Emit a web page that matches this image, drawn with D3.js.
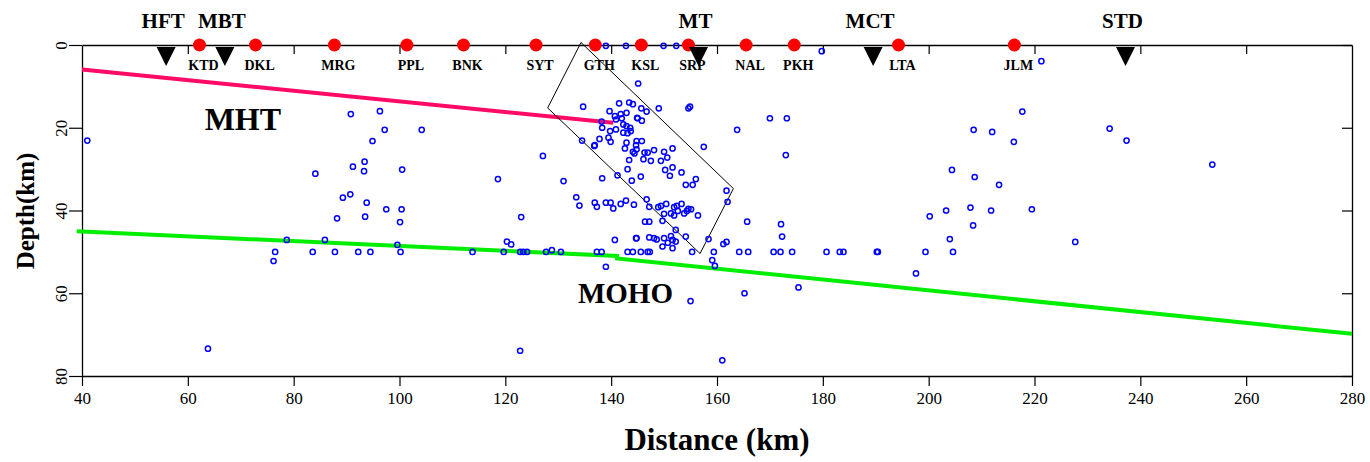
<!DOCTYPE html>
<html>
<head>
<meta charset="utf-8">
<script src="https://cdn.jsdelivr.net/npm/d3@7"></script>
<style>
  body { margin:0; background:#fff; }
  text { font-family:"Liberation Serif","Times New Roman",serif; }
</style>
</head>
<body>
<svg id="chart"></svg>
<script>
// axis ticks
var xTicks = [40,60,80,100,120,140,160,180,200,220,240,260,280]
var yTicks = [0,20,40,60,80]

// faults (triangles on top)
var faultNames = ["HFT","MBT","MT","MCT","STD"]
var faultKm = [55.9,67.0,156.5,189.5,237.2]

// stations (red dots)
var stationNames = ["KTD","DKL","MRG","PPL","BNK","SYT","GTH","KSL","SRP","NAL","PKH","LTA","JLM"]
var stationKm = [62.2,72.8,87.7,101.4,112.1,125.8,137.0,145.7,154.6,165.5,174.6,194.3,216.2]

// MHT trace
var mhtKm = [40,140.4]
var mhtDepth = [5.9,18.8]

// Moho trace
var mohoKm = [39,141.1,141.1,280]
var mohoDepth = [45.0,51.0,51.6,69.8]

// box around the cluster
var boxKm = [134.3,128.0,156.8,163.1,134.3]
var boxDepth = [-0.6,15.2,50.4,34.7,-0.6]

// earthquakes [distance km, depth km]
var quakes = [
  [41.0,23.1],[90.8,16.7],[96.3,16.0],[97.2,20.5],[104.2,20.5],[94.9,23.2],[93.4,28.2],[91.2,29.4],
  [93.3,30.5],[100.5,30.1],[84.1,31.1],[118.6,32.4],[90.7,36.1],[89.3,36.9],[93.8,38.1],[97.5,39.7],
  [100.4,39.7],[88.2,41.9],[93.5,41.5],[100.1,42.8],[123.0,41.6],[78.7,47.1],[85.9,47.1],[99.6,48.3],
  [120.3,47.5],[121.1,48.2],[76.2,52.2],[63.8,73.4],[122.8,73.9],
  [76.5,50],[83.6,50],[87.8,50],[92.2,50],[94.5,50],[100.2,50],[113.8,50],[119.7,50],[122.8,50],
  [123.4,50],[124.1,50],[127.7,50],[128.8,49.6],[130.5,50],[137.3,50],[138.2,50],[143.1,50],[144.1,50],
  [145.6,50],[146.9,50],[147.3,50],[155.3,50],[159.4,50],[164.2,50],[165.9,50],[170.7,50],[172.0,50],
  [174.2,50],[180.7,50],[183.2,50],[183.9,50],[190.2,50],[190.4,50],[199.4,50],[204.6,50],
  [139.0,0.2],[142.8,0.2],[149.9,0.2],[152.3,0.2],[179.8,1.5],[221.3,3.9],[145.1,9.3],
  [134.7,14.9],[141.5,14.1],[139.7,16.0],[143.4,13.9],[144.1,14.3],[140.7,17.2],[141.8,16.7],[142.9,16.4],
  [140.9,18.0],[142.0,17.7],[144.9,17.6],[138.2,18.5],[138.3,20.0],[142.3,19.2],[142.9,19.6],[143.6,20.0],
  [139.8,20.8],[140.9,20.4],[142.3,21.2],[143.1,21.3],[143.7,20.8],[139.5,22.4],[139.9,23.4],[137.8,22.7],
  [134.5,23.1],[136.9,24.2],[136.8,24.4],[142.9,23.6],[144.8,23.2],[142.6,25.0],[144.7,24.2],[144.1,25.8],
  [144.4,26.2],[144.8,25.2],[143.4,27.8],[143.1,30.0],[127.1,26.8],[131.0,32.9],[138.3,32.2],[141.2,31.5],
  [143.9,32.8],[133.4,36.8],[134.0,38.8],[136.9,38.1],[137.3,39.1],[139.0,38.1],[139.9,38.1],[140.4,39.5],
  [141.8,38.4],[142.8,37.6],[144.3,38.6],[140.7,47.1],[144.7,46.7],[139.0,53.6],
  [145.7,15.3],[146.7,16.1],[149.0,15.3],[154.6,15.3],[154.9,14.9],[145.0,17.7],[145.8,18.3],[163.8,20.5],
  [145.8,23.2],[157.5,24.6],[146.3,26.0],[146.9,26.0],[146.1,27.6],[147.5,28.0],[148.1,25.4],[150.0,25.8],
  [150.6,27.2],[149.4,28.0],[151.6,25.0],[150.2,30.2],[151.1,31.6],[151.6,29.6],[153.3,30.8],[145.6,31.8],
  [154.1,33.8],[155.4,33.8],[156.0,32.4],[161.8,35.2],[162.0,37.9],[146.7,37.3],[147.2,39.1],[148.9,39.2],
  [149.4,38.9],[150.4,38.4],[150.0,40.8],[151.3,40.7],[151.9,41.2],[152.4,38.9],[153.3,38.4],[153.8,40.7],
  [154.6,39.6],[155.1,39.7],[156.4,41.2],[152.6,40.1],[154.3,40.1],[151.9,39.2],[149.7,42.5],[146.4,42.7],
  [147.2,42.7],[152.2,44.7],[144.8,46.7],[147.2,46.5],[148.1,46.7],[148.6,47.0],[150.0,46.7],[151.3,46.2],
  [151.6,47.1],[152.2,47.5],[150.7,47.8],[154.1,46.3],[158.4,46.9],[161.2,48.1],[161.8,47.6],[149.7,48.7],
  [151.6,49.1],[159.1,52.0],[159.6,53.4],[165.7,42.7],
  [155.0,61.9],[165.2,60.0],[175.4,58.6],[161.0,76.2],[197.6,55.2],
  [170.0,17.7],[173.2,17.7],[173.0,26.6],[217.7,16.1],[208.5,20.5],[212.0,21.0],[216.1,23.4],[234.2,20.2],
  [237.4,23.1],[253.6,28.9],[204.4,30.2],[208.7,31.9],[213.3,33.8],[200.2,41.4],[203.3,40.0],[207.9,39.3],
  [211.8,40.0],[219.5,39.7],[208.4,43.6],[204.0,46.9],[227.7,47.6],[172.1,43.3],[172.3,46.3]
]

var screen = {width:1370,height:462}
var margins = {top:45,right:18,bottom:86,left:82}
var width = screen.width - margins.left - margins.right
var height = screen.height - margins.top - margins.bottom

var svg = d3.select("#chart")
    .attr("width",screen.width)
    .attr("height",screen.height)

var g = svg.append("g")
    .attr("transform","translate("+margins.left+","+margins.top+")")

var xScale = d3.scaleLinear().domain([40,280]).range([0,width])
var yScale = d3.scaleLinear().domain([0,80]).range([0,height])

// frame axes
var bottomAxis = g.append("g")
    .attr("transform","translate(0,"+height+")")
    .call(d3.axisBottom(xScale).tickValues(xTicks).tickSize(10).tickPadding(6).tickSizeOuter(0))
var topAxis = g.append("g")
    .call(d3.axisTop(xScale).tickValues(xTicks.slice(1,-1)).tickSize(-9).tickFormat("").tickSizeOuter(0))
var leftAxis = g.append("g")
    .call(d3.axisLeft(yScale).tickValues(yTicks).tickSize(13).tickPadding(8).tickSizeOuter(0))
var rightAxis = g.append("g")
    .attr("transform","translate("+width+",0)")
    .call(d3.axisRight(yScale).tickValues(yTicks).tickSize(-10).tickFormat("").tickSizeOuter(0))

g.selectAll(".domain").attr("stroke","#000").attr("stroke-width",1.3)
g.selectAll(".tick line").attr("stroke","#000").attr("stroke-width",1.2)

bottomAxis.selectAll("text")
    .attr("font-size",17)
    .attr("fill","#000")
    .style("font-family","'Liberation Serif','Times New Roman',serif")

leftAxis.selectAll(".tick text")
    .attr("font-size",17)
    .attr("fill","#000")
    .attr("text-anchor","middle")
    .attr("x",null).attr("dy",null)
    .attr("transform","translate(-21,0) rotate(-90) translate(0,6)")
    .style("font-family","'Liberation Serif','Times New Roman',serif")

// lines
var line = d3.line()
    .x(function(d){return xScale(d[0])})
    .y(function(d){return yScale(d[1])})

g.append("path")
    .datum(mohoKm.map(function(k,i){return [k,mohoDepth[i]]}))
    .attr("d",line)
    .attr("fill","none")
    .attr("stroke","#00ee00")
    .attr("stroke-width",4)

g.append("path")
    .datum(mhtKm.map(function(k,i){return [k,mhtDepth[i]]}))
    .attr("d",line)
    .attr("fill","none")
    .attr("stroke","#ff0a66")
    .attr("stroke-width",4)

g.append("path")
    .datum(boxKm.map(function(k,i){return [k,boxDepth[i]]}))
    .attr("d",line)
    .attr("fill","none")
    .attr("stroke","#000")
    .attr("stroke-width",1)

// quakes
g.selectAll("circle.eq")
    .data(quakes)
    .enter()
    .append("circle")
    .attr("class","eq")
    .attr("cx",function(d){return xScale(d[0])})
    .attr("cy",function(d){return yScale(d[1])})
    .attr("r",2.6)
    .attr("fill","none")
    .attr("stroke","#0000ff")
    .attr("stroke-width",1.5)

// stations
g.selectAll("circle.st")
    .data(stationKm)
    .enter()
    .append("circle")
    .attr("class","st")
    .attr("cx",function(d){return xScale(d)})
    .attr("cy",0)
    .attr("r",6.5)
    .attr("fill","#ff0000")

g.selectAll("text.st")
    .data(stationNames)
    .enter()
    .append("text")
    .attr("class","st")
    .attr("x",function(d,i){return xScale(stationKm[i])+4})
    .attr("y",25)
    .attr("text-anchor","middle")
    .attr("font-size",14)
    .attr("font-weight","bold")
    .text(function(d){return d})

// faults
g.selectAll("path.fault")
    .data(faultKm)
    .enter()
    .append("path")
    .attr("class","fault")
    .attr("d",function(d){var x=xScale(d);return "M"+(x-9.5)+",2L"+(x+9.5)+",2L"+x+",21Z"})
    .attr("fill","#000")

g.selectAll("text.fault")
    .data(faultNames)
    .enter()
    .append("text")
    .attr("class","fault")
    .attr("x",function(d,i){return xScale(faultKm[i])-3})
    .attr("y",-17)
    .attr("text-anchor","middle")
    .attr("font-size",21)
    .attr("font-weight","bold")
    .text(function(d){return d})

// zone labels
g.append("text")
    .attr("x",xScale(70.4)).attr("y",yScale(20.6))
    .attr("text-anchor","middle")
    .attr("font-size",32).attr("font-weight","bold")
    .text("MHT")

g.append("text")
    .attr("x",xScale(142.7)).attr("y",yScale(62.3))
    .attr("text-anchor","middle")
    .attr("font-size",29).attr("font-weight","bold")
    .text("MOHO")

// axis titles
svg.append("text")
    .attr("x",margins.left+width/2)
    .attr("y",450)
    .attr("text-anchor","middle")
    .attr("font-size",31).attr("font-weight","bold")
    .text("Distance (km)")

svg.append("text")
    .attr("transform","translate(34,211) rotate(-90)")
    .attr("text-anchor","middle")
    .attr("font-size",25).attr("font-weight","bold")
    .text("Depth(km)")
</script>
</body>
</html>
